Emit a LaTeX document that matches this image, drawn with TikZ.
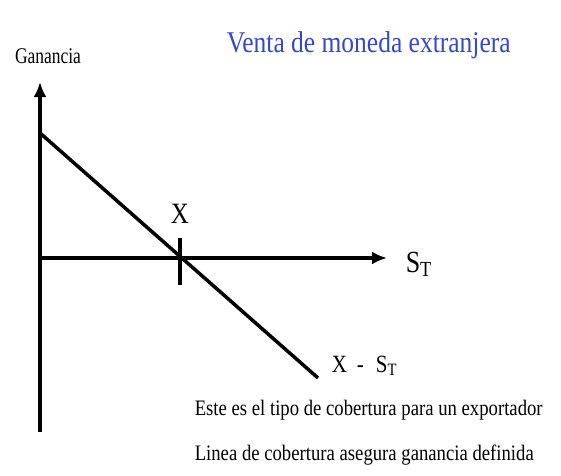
\documentclass[tikz,border=0pt]{standalone}
\usepackage{fontspec}
\setmainfont{Liberation Serif}
\usetikzlibrary{arrows.meta,positioning}

\definecolor{titleblue}{RGB}{52,72,205}

\begin{document}
\begin{tikzpicture}[x=1pt,y=1pt,line width=3.5pt,>={Latex[length=15pt,width=13pt]},
  txt/.style={inner sep=0pt,yscale=1.18},
  axis/.style={->},
  payoff/.style={line cap=butt}]
  \useasboundingbox (0,0) rectangle (561,475);

  % axes
  \coordinate (ybot) at (40,43);
  \coordinate (ytop) at (40,393);
  \coordinate (org)  at (40,217);
  \coordinate (xend) at (387,217);
  \draw[axis] (ybot) -- (ytop);
  \draw[axis] (org) -- (xend);

  % payoff line and strike mark
  \coordinate (pstart) at (40,342);
  \coordinate (pend)   at (318,97);
  \draw[payoff] (pstart) -- (pend);
  \coordinate (ktop) at (180,237);
  \coordinate (kbot) at (180,190);
  \draw (ktop) -- (kbot);

  % labels
  \node[txt,font=\fontsize{19}{22}\selectfont,xscale=0.92] (gan) at (48,419) {Ganancia};
  \node[txt,anchor=base west,text=titleblue,font=\fontsize{25.5}{30}\selectfont] (title) at (225,422) {Venta de moneda extranjera};
  \node[txt,anchor=base,font=\fontsize{25}{30}\selectfont] (strike) at (180,252) {X};
  \node[txt,anchor=base west,font=\fontsize{26}{30}\selectfont] (spot) at (404,203) {S\textsubscript{T}};
  \node[txt,anchor=base west,font=\fontsize{21}{25}\selectfont] (diff) at (330,103) {X\hspace{10pt}-\hspace{12pt}S\textsubscript{T}};
  \node[txt,anchor=base west,font=\fontsize{18.7}{22}\selectfont] (note1) at (193,60) {Este es el tipo de cobertura para un exportador};
  \node[txt,anchor=base west,font=\fontsize{18.7}{22}\selectfont] (note2) at (193,15) {Linea de cobertura asegura ganancia definida};
\end{tikzpicture}
\end{document}
